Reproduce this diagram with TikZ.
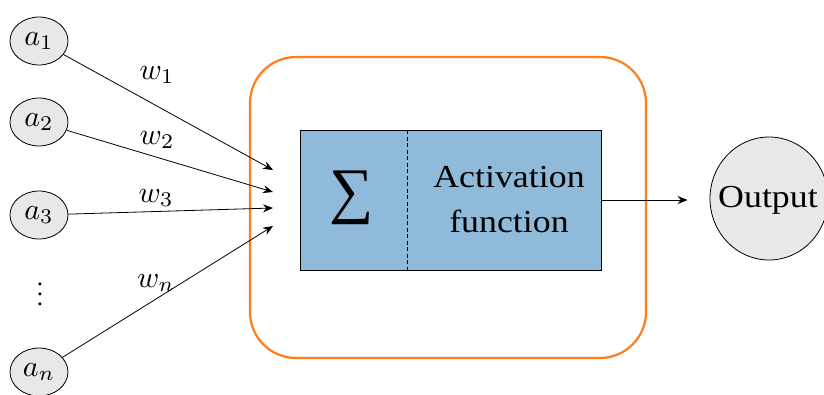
\documentclass[tikz,border=0pt]{standalone}
\usepackage{fontspec}
\usepackage{graphicx}
\setmainfont{Liberation Serif}
\usetikzlibrary{arrows.meta,shapes.geometric}
\definecolor{orangeb}{RGB}{255,127,30}
\definecolor{boxblue}{RGB}{143,186,217}
\definecolor{nodegray}{RGB}{232,232,232}
\newcommand{\hstr}[1]{\scalebox{1.12}[1]{#1}}
\newcommand{\mth}[1]{\scalebox{3.0}{$#1$}}
\begin{document}
\begin{tikzpicture}[x=1pt,y=-1pt,
  inp/.style={ellipse,draw,line width=0.8pt,fill=nodegray,minimum width=58pt,minimum height=48pt,inner sep=0pt},
  conn/.style={-{Stealth[length=10pt,width=8pt]},line width=0.8pt},
  wlab/.style={inner sep=0pt},
  big/.style={font=\fontsize{32}{40}\selectfont,inner sep=0pt}]
\useasboundingbox (0,0) rectangle (824,394);
\clip (0,0) rectangle (824,394);
% frame and box
\node[draw=orangeb,line width=2.2pt,rounded corners=46pt,minimum width=396pt,minimum height=301pt,inner sep=0pt] (frame) at (448,207.5) {};
\node[draw,line width=0.9pt,fill=boxblue,minimum width=301pt,minimum height=140pt,inner sep=0pt] (sumbox) at (450.5,200) {};
\coordinate (dtop) at (407,130);
\coordinate (dbot) at (407,270);
\draw[dash pattern=on 4pt off 2.5pt,line width=0.8pt] (dtop) -- (dbot);
\node[inner sep=0pt] (sigma) at (352,198) {\fontsize{62}{70}\selectfont ∑};
\node[big,anchor=base] (act1) at (509,187) {\hstr{Activation}};
\node[big,anchor=base] (act2) at (509,232) {\hstr{function}};
% inputs
\node[inp] (a1) at (39,41) {\mth{a_1}};
\node[inp] (a2) at (39,122) {\mth{a_2}};
\node[inp] (a3) at (39,215) {\mth{a_3}};
\node[inp] (an) at (39,372) {\mth{a_n}};
\node[wlab] (dots) at (40,287) {\scalebox{2.5}{$\vdots$}};
\coordinate (t1) at (273,170);
\coordinate (t2) at (273,192);
\coordinate (t3) at (273,208);
\coordinate (tn) at (273,226);
\draw[conn] (a1) -- (t1);
\draw[conn] (a2) -- (t2);
\draw[conn] (a3) -- (t3);
\draw[conn] (an) -- (tn);
\node[wlab] (w1) at (157,75) {\mth{w_1}};
\node[wlab] (w2) at (157,140) {\mth{w_2}};
\node[wlab] (w3) at (156,198) {\mth{w_3}};
\node[wlab] (wn) at (156,283) {\mth{w_n}};
% output
\node[ellipse,draw,line width=0.8pt,fill=nodegray,minimum width=118pt,minimum height=123pt,inner sep=0pt] (out) at (769,198.5) {};
\node[big,anchor=base] (outtxt) at (768,207) {\hstr{Output}};
\draw[conn,shorten >=22pt] (sumbox.east) -- (sumbox.east -| out.west);
\end{tikzpicture}
\end{document}
